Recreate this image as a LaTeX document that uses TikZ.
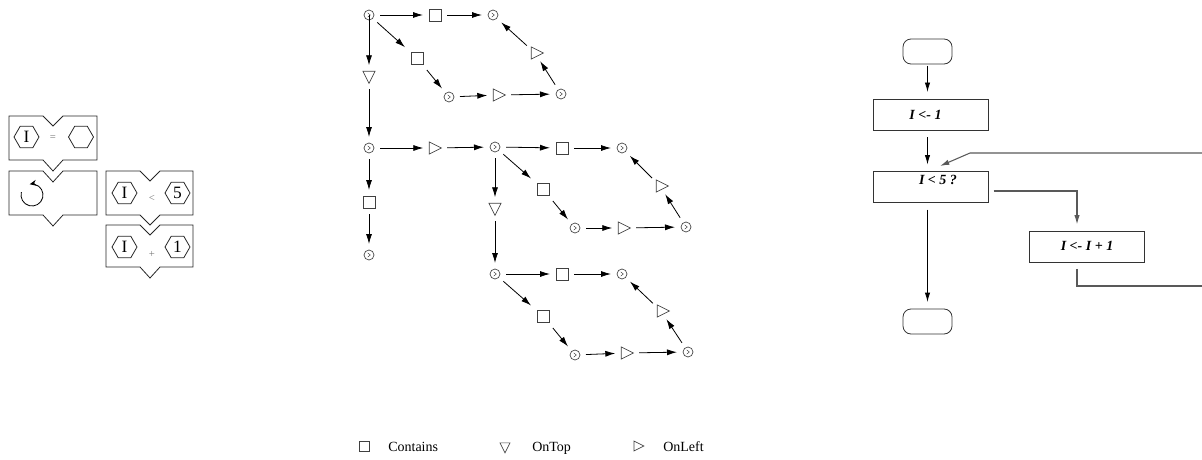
\documentclass[tikz,border=0pt]{standalone}
\usepackage{fontspec}
\setmainfont{Liberation Serif}
\usetikzlibrary{arrows.meta,shapes.geometric}
\begin{document}
\begin{tikzpicture}[x=0.75pt,y=-0.75pt,
  arr/.style={-{Latex[length=7.5pt,width=4.5pt]}, line width=0.6pt},
  totri/.style={shorten >=4.5pt},
  fromtri/.style={shorten <=4.5pt},
  gn/.style={draw=black!75, line width=0.5pt, inner sep=0pt, outer sep=4.5pt},
  circ/.style={gn, circle, minimum size=7.5pt,
    path picture={\draw[line width=0.35pt] (path picture bounding box.center) ++(-1pt,1.6pt) -- ++(2pt,-1.6pt) -- ++(-2pt,-1.6pt);}},
  sq/.style={gn, rectangle, minimum size=9pt},
  rtri/.style={gn, outer sep=0pt, isosceles triangle, isosceles triangle stretches, minimum width=9pt, minimum height=9pt},
  dtri/.style={rtri, shape border rotate=270},
  piece/.style={draw=black!85, line width=0.6pt},
  hexa/.style={draw=black!85, line width=0.6pt, regular polygon, regular polygon sides=6, minimum size=18.75pt, inner sep=0pt, font=\fontsize{13}{13}\selectfont},
  op/.style={text=black!55, inner sep=0pt, font=\fontsize{8}{8}\selectfont},
  fbox/.style={draw=black!80, line width=0.6pt, rectangle, minimum width=86.25pt, minimum height=23.25pt, inner sep=0pt},
  ftext/.style={inner sep=0pt, font=\bfseries\itshape\fontsize{10.5}{12}\selectfont},
  term/.style={draw=black!80, line width=0.6pt, rectangle, rounded corners=6pt, minimum width=36.75pt, minimum height=18.75pt, inner sep=0pt},
  farr/.style={-{Latex[length=7pt,width=4pt]}, line width=0.6pt},
  loopline/.style={draw=black!65, line width=0.8pt},
  legtext/.style={anchor=base west, inner sep=0pt, font=\fontsize{10.5}{12}\selectfont}
]
\useasboundingbox (0,0) rectangle (1202,460);

% ---------------- left: puzzle pieces ----------------
\draw[piece] (9,116) -- (43,116) -- (53,126) -- (63,116) -- (97,116) -- (97,160) -- (63,160) -- (53,171) -- (43,160) -- (9,160) -- cycle;
\draw[piece] (9,171) -- (43,171) -- (53,182) -- (63,171) -- (97,171) -- (97,215) -- (63,215) -- (53,226) -- (43,215) -- (9,215) -- cycle;
\draw[piece] (106,171) -- (140,171) -- (150,181) -- (160,171) -- (193,171) -- (193,215) -- (160,215) -- (150,225) -- (140,215) -- (106,215) -- cycle;
\draw[piece] (106,225) -- (140,225) -- (150,235) -- (160,225) -- (193,225) -- (193,267) -- (160,267) -- (150,278) -- (140,267) -- (106,267) -- cycle;

\node[hexa] (h1) at (26.5,137) {I};
\node[op] (o1) at (53,138) {=};
\node[hexa] (h2) at (81,137) {};
\draw[line width=0.6pt, -{Stealth[length=5pt,width=4.5pt]}] (32,195) ++(165:8.25pt) arc[start angle=165, end angle=462, radius=8.25pt];
\node[hexa] (h3) at (124.5,193) {I};
\node[op] (o2) at (152,198) {<};
\node[hexa] (h4) at (177.5,193) {5};
\node[hexa] (h5) at (124.5,247) {I};
\node[op] (o3) at (152,254) {+};
\node[hexa] (h6) at (177.5,247) {1};

% ---------------- middle: graph ----------------
% pattern 1
\node[circ] (a0) at (369,15) {};
\node[sq]   (a1) at (435,15) {};
\node[circ] (a2) at (493,15) {};
\node[sq]   (a3) at (417,58) {};
\node[circ] (a4) at (449,97) {};
\node[rtri] (a5) at (497,95) {};
\node[circ] (a6) at (561,94) {};
\node[rtri] (a7) at (535,53) {};
% pattern 2
\node[circ] (b0) at (495,147) {};
\node[sq]   (b1) at (562,148) {};
\node[circ] (b2) at (622,148) {};
\node[sq]   (b3) at (543,189) {};
\node[circ] (b4) at (575,228) {};
\node[rtri] (b5) at (622,228) {};
\node[circ] (b6) at (686,227) {};
\node[rtri] (b7) at (660,186) {};
% pattern 3
\node[circ] (c0) at (495,274) {};
\node[sq]   (c1) at (562,274) {};
\node[circ] (c2) at (622,274) {};
\node[sq]   (c3) at (543,316) {};
\node[circ] (c4) at (575,355) {};
\node[rtri] (c5) at (625,353) {};
\node[circ] (c6) at (688,352) {};
\node[rtri] (c7) at (661,311) {};
% connectors between
\node[dtri] (d1) at (369,75) {};
\node[circ] (d2) at (369,148) {};
\node[rtri] (d3) at (433,148) {};
\node[sq]   (d4) at (369,202) {};
\node[circ] (d5) at (369,255) {};
\node[dtri] (d6) at (495,207) {};

\foreach \p in {a,b,c}{
  \draw[arr] (\p0) -- (\p1);
  \draw[arr] (\p1) -- (\p2);
  \draw[arr] (\p0) -- (\p3);
  \draw[arr] (\p3) -- (\p4);
  \draw[arr, totri] (\p4) -- (\p5);
  \draw[arr, fromtri] (\p5) -- (\p6);
  \draw[arr, totri] (\p6) -- (\p7);
  \draw[arr, fromtri] (\p7) -- (\p2);
}
\draw[arr, totri] (a0.center) -- (d1);
\draw[arr, fromtri] (d1) -- (d2);
\draw[arr, totri] (d2) -- (d3);
\draw[arr, fromtri] (d3) -- (b0);
\draw[arr] (d2) -- (d4);
\draw[arr] (d4) -- (d5);
\draw[arr, totri] (b0) -- (d6);
\draw[arr, fromtri] (d6) -- (c0);

% legend
\node[sq, minimum size=7.5pt] (l1) at (364,446) {};
\node[legtext] (lt1) at (388,451) {Contains};
\node[dtri, minimum width=7.5pt, minimum height=7.5pt] (l2) at (505,446) {};
\node[legtext] (lt2) at (532,451) {OnTop};
\node[rtri, minimum width=7.5pt, minimum height=7.5pt] (l3) at (637,446) {};
\node[legtext] (lt3) at (663,451) {OnLeft};

% ---------------- right: flowchart ----------------
\node[term] (start) at (927.5,51.5) {};
\node[fbox] (s1) at (930.5,114.5) {};
\node[ftext] (t1) at (925.5,115) {I <- 1};
\node[fbox] (s2) at (930.5,187) {};
\node[ftext] (t2) at (938,180) {I < 5 ?};
\node[fbox] (s3) at (1086.5,247) {};
\node[ftext] (t3) at (1087,246) {I <- I + 1};
\node[term] (stop) at (927.5,321.5) {};

\coordinate (e1) at (1203,286);
\coordinate (e2) at (1203,153);
\coordinate (k1) at (970,153);

\draw[farr, shorten <=1pt, shorten >=5pt] (start.south) -- (start.south |- s1.north);
\draw[farr, shorten <=5pt, shorten >=5pt] (s1.south -| start.south) -- (s2.north -| start.south);
\draw[farr, shorten <=5pt, shorten >=5pt] (s2.south -| start.south) -- (stop.north);
\draw[farr, loopline, shorten <=4pt, shorten >=5pt] (s2.east |- 0,191) -| (s3.north -| 1077,0);
\draw[loopline, shorten <=4.5pt] (s3.south -| 1077,0) |- (e1);
\draw[farr, loopline] (e2) -- (k1) -- (940,166);
\end{tikzpicture}
\end{document}
